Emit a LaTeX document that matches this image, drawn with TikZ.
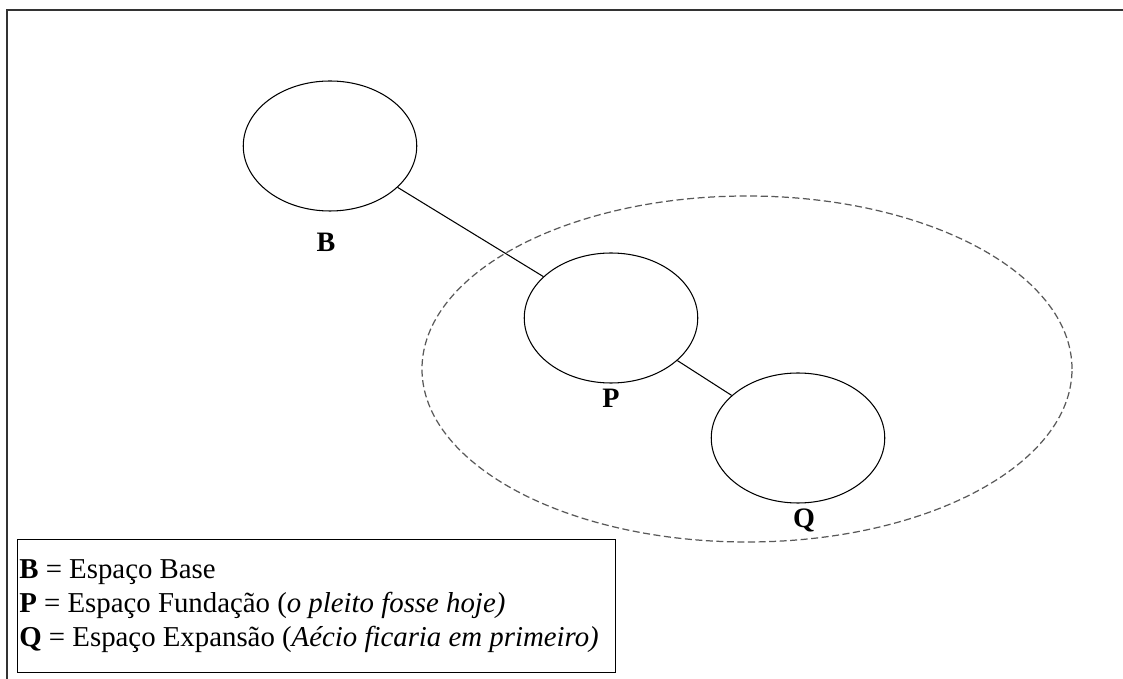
\documentclass[tikz,border=0pt]{standalone}
\usepackage{fontspec}
\setmainfont{Liberation Serif}
\usetikzlibrary{shapes.geometric,positioning}

\begin{document}
\begin{tikzpicture}[
  space/.style={draw, ellipse, line width=0.6pt, minimum width=3.47cm, minimum height=2.6cm, inner sep=0pt},
  spacename/.style={font=\fontsize{16}{17}\selectfont\bfseries, inner sep=0pt},
  link/.style={line width=0.6pt},
  region/.style={draw=black!65, dash pattern=on 4pt off 2pt, line width=0.7pt},
  legendbox/.style={draw, line width=0.8pt, minimum width=11.96cm, minimum height=2.66cm, inner sep=0pt},
  legendtext/.style={font=\fontsize{16.4}{17.5}\selectfont, align=left, inner sep=0pt}
]
  \useasboundingbox (0,0) rectangle (22.46,-13.58);

  %%%%%%%%%%%Draw the frame%%%%%%%%%%%
  \draw[line width=1.2pt, black!80] (22.6,-0.2) -- (0.14,-0.2) -- (0.14,-13.7);

  %%%%%%%%%%%Draw the dashed region%%%%%%%%%%%
  \draw[region] (14.94,-7.38) ellipse (6.50 and 3.46);

  %%%%%%%%%%%Draw the three spaces%%%%%%%%%%%
  \node[space] (b) at (6.60,-2.92) {};
  \node[space] (p) at (12.22,-6.36) {};
  \node[space] (q) at (15.96,-8.76) {};
  \node[spacename, below=0.42cm of b, xshift=-0.08cm] (bname) {B};
  \node[spacename, below=0.10cm of p] (pname) {P};
  \node[spacename, below=0.10cm of q, xshift=0.12cm] (qname) {Q};

  %%%%%%%%%%%Draw the links%%%%%%%%%%%
  \draw[link] (b) -- (p);
  \draw[link] (p) -- (q);

  %%%%%%%%%%%Draw the legend%%%%%%%%%%%
  \node[legendbox, anchor=north west] (legend) at (0.34,-10.78) {};
  \node[legendtext, anchor=north west] (legendlines) at (0.38,-11.18) {\textbf{B} = Espaço Base\\[2pt]
    \textbf{P} = Espaço Fundação (\textit{o pleito fosse hoje)}\\[2pt]
    \textbf{Q} = Espaço Expansão (\textit{Aécio ficaria em primeiro)}};
\end{tikzpicture}
\end{document}
